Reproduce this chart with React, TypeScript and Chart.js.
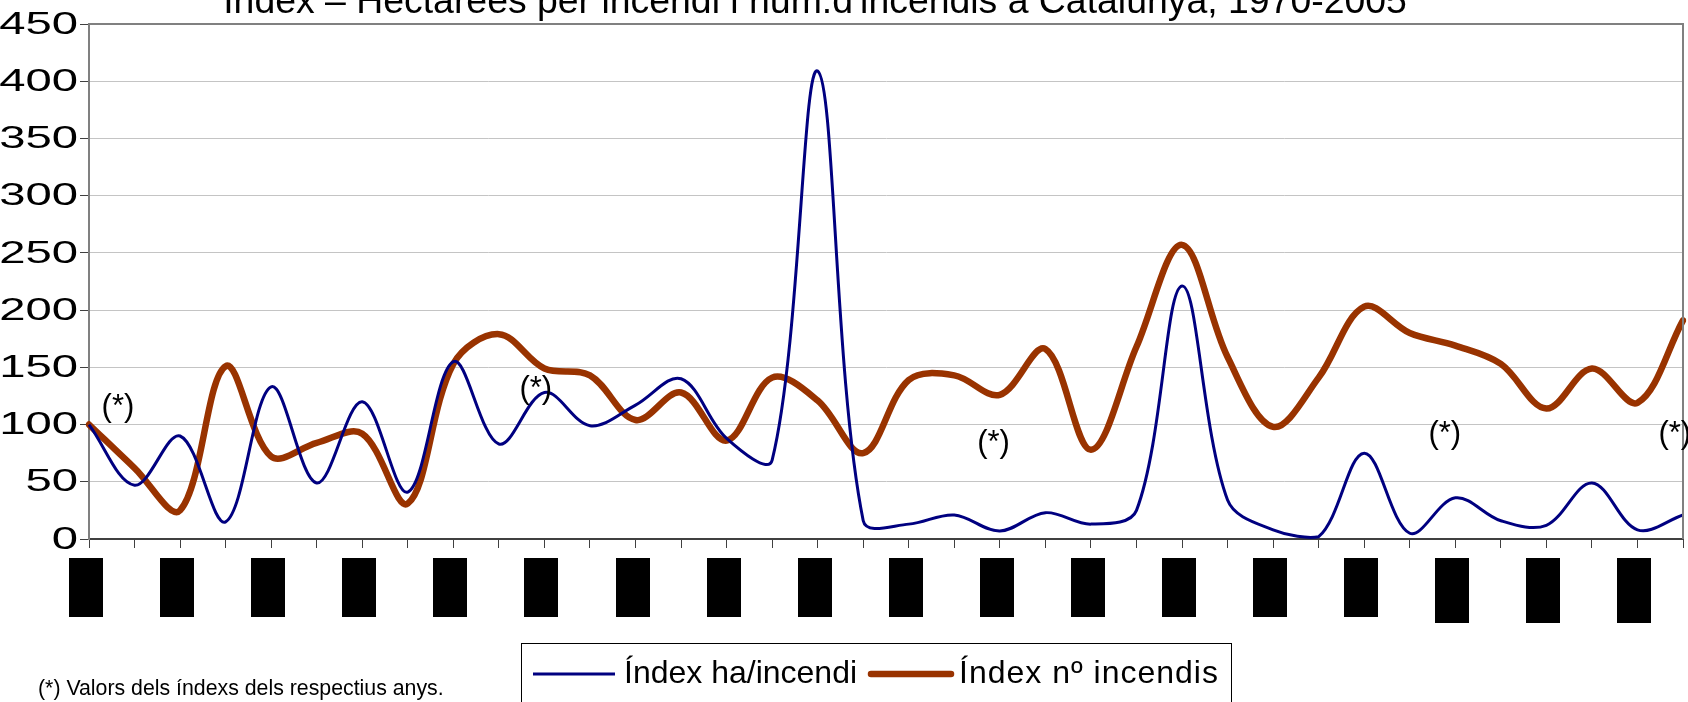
import React, { useEffect, useRef } from 'react';
import { Chart, registerables } from 'chart.js';

Chart.register(...registerables);

const years = [
  '1970','1971','1972','1973','1974','1975','1976','1977','1978','1979',
  '1980','1981','1982','1983','1984','1985','1986','1987','1988','1989',
  '1990','1991','1992','1993','1994','1995','1996','1997','1998','1999',
  '2000','2001','2002','2003','2004','2005',
];

const haPerFire = [
  100, 47, 90, 15, 133, 49, 120, 41, 155, 83,
  128, 99, 117, 140, 88, 69, 409, 16, 13, 21,
  7, 23, 13, 25, 221, 34, 8, 2, 75, 5,
  36, 16, 12, 49, 8, 21,
];

const numFires = [
  100, 62, 25, 151, 72, 84, 92, 31, 153, 179,
  149, 143, 104, 128, 86, 141, 121, 75, 139, 143,
  126, 166, 78, 168, 257, 159, 98, 141, 203, 180,
  169, 153, 114, 149, 119, 191,
];

const yTickValues = [0, 50, 100, 150, 200, 250, 300, 350, 400, 450];

// "(*)" markers: category position and value where each marker sits
const noteIndex = [0.635, 9.81, 19.86, 29.77, 34.82];
const noteValue = [114.6, 130.3, 83.2, 90.7, 91];
const noteText = '(*)';

const seriesLabels = ['Índex ha/incendi', 'Índex nº incendis'];
const titleText = "Índex – Hectàrees per incendi i núm.d'incendis a Catalunya, 1970-2005";
const footnoteText = '(*) Valors dels índexs dels respectius anys.';

const FONT = '"Liberation Sans", Arial, Helvetica, sans-serif';

const decorPlugin = {
  id: 'decor',
  afterDraw(chart: any) {
    const { ctx, chartArea: ca, scales } = chart;
    const x = scales.x;
    const y = scales.y;
    ctx.save();

    // plot frame (top and right)
    ctx.strokeStyle = '#808080';
    ctx.lineWidth = 2;
    ctx.beginPath();
    ctx.moveTo(ca.left, ca.top);
    ctx.lineTo(ca.right, ca.top);
    ctx.lineTo(ca.right, ca.bottom);
    ctx.stroke();

    // y tick labels (wide-rendered digits as in the reference)
    ctx.fillStyle = '#000';
    ctx.font = `31.5px ${FONT}`;
    ctx.textAlign = 'right';
    ctx.textBaseline = 'middle';
    for (const v of yTickValues) {
      const py = y.getPixelForValue(v);
      ctx.save();
      ctx.translate(78, py + 1);
      ctx.scale(1.5, 1);
      ctx.fillText(String(v), 0, 0);
      ctx.restore();
    }

    // title (partly cut at top, as in reference)
    ctx.font = `37.4px ${FONT}`;
    ctx.textAlign = 'center';
    ctx.textBaseline = 'alphabetic';
    ctx.fillText(titleText, 815, 13);

    // category label boxes (unrendered year labels appear as black blocks)
    const tall = new Set([30, 32, 34]);
    for (let i = 0; i < years.length; i += 2) {
      const px = x.getPixelForValue(i);
      const bottom = tall.has(i) ? 623 : 617;
      ctx.fillRect(Math.round(px - 20), 558, 34, bottom - 558);
    }

    // (*) notes
    ctx.font = `31px ${FONT}`;
    ctx.textAlign = 'center';
    for (let k = 0; k < noteIndex.length; k++) {
      const px = x.getPixelForValue(noteIndex[k]);
      const py = y.getPixelForValue(noteValue[k]);
      ctx.fillText(noteText, px, py + 8);
    }

    // legend
    const ds = chart.data.datasets;
    ctx.strokeStyle = '#000';
    ctx.lineWidth = 1;
    ctx.strokeRect(521.5, 643.5, 710, 80);
    ctx.lineCap = 'butt';
    ctx.strokeStyle = ds[0].borderColor;
    ctx.lineWidth = 3;
    ctx.beginPath();
    ctx.moveTo(533, 674);
    ctx.lineTo(615, 674);
    ctx.stroke();
    ctx.strokeStyle = ds[1].borderColor;
    ctx.lineWidth = 6.5;
    ctx.lineCap = 'round';
    ctx.beginPath();
    ctx.moveTo(871, 674);
    ctx.lineTo(951, 674);
    ctx.stroke();
    ctx.fillStyle = '#000';
    ctx.font = `32px ${FONT}`;
    ctx.textAlign = 'left';
    ctx.fillText(ds[0].label, 624, 683);
    (ctx as any).letterSpacing = '1px';
    ctx.fillText(ds[1].label, 959, 683);
    (ctx as any).letterSpacing = '0px';

    // footnote
    ctx.font = `21.3px ${FONT}`;
    ctx.fillText(footnoteText, 38, 695);

    ctx.restore();
  },
};

export default function App() {
  const ref = useRef<HTMLCanvasElement | null>(null);

  useEffect(() => {
    document.body.style.margin = '0';
    const canvas = ref.current;
    if (!canvas) return;
    const chart = new Chart(canvas, {
      type: 'line',
      data: {
        labels: years,
        datasets: [
          {
            label: seriesLabels[0],
            data: haPerFire,
            borderColor: '#000080',
            borderWidth: 3,
            pointRadius: 0,
            pointHoverRadius: 0,
            tension: 0.35,
            fill: false,
            borderJoinStyle: 'round',
          },
          {
            label: seriesLabels[1],
            data: numFires,
            borderColor: '#993300',
            borderWidth: 6.5,
            pointRadius: 0,
            pointHoverRadius: 0,
            tension: 0.35,
            fill: false,
            borderJoinStyle: 'round',
            borderCapStyle: 'round',
          },
        ],
      },
      options: {
        responsive: false,
        animation: false,
        devicePixelRatio: 1,
        events: [],
        layout: { padding: { top: 24, right: 5, bottom: 0, left: 0 } },
        plugins: {
          legend: { display: false },
          title: { display: false },
          tooltip: { enabled: false },
        },
        scales: {
          x: {
            type: 'category',
            offset: false,
            border: { display: true, color: '#404040', width: 2 },
            grid: {
              display: true,
              drawOnChartArea: false,
              drawTicks: true,
              tickLength: 9,
              tickColor: '#404040',
              tickWidth: 1,
            },
            ticks: {
              autoSkip: false,
              maxRotation: 0,
              callback: () => '',
            },
            afterFit: (s: any) => {
              s.height = 163;
              s.paddingLeft = 0;
              s.paddingRight = 0;
            },
          },
          y: {
            min: 0,
            max: 450,
            afterBuildTicks: (s: any) => {
              s.ticks = yTickValues.map((v) => ({ value: v }));
            },
            border: { display: true, color: '#808080', width: 2 },
            grid: {
              color: '#c4c4c4',
              lineWidth: 1,
              drawTicks: true,
              tickLength: 9,
              tickColor: '#404040',
            },
            ticks: {
              display: false,
            },
            afterFit: (s: any) => {
              s.width = 89;
              s.paddingTop = 0;
              s.paddingBottom = 0;
            },
          },
        },
      },
      plugins: [decorPlugin],
    });
    return () => chart.destroy();
  }, []);

  return (
    <div style={{ width: 1688, height: 702, overflow: 'hidden' }}>
      <canvas ref={ref} width={1688} height={702} style={{ display: 'block' }} />
    </div>
  );
}
